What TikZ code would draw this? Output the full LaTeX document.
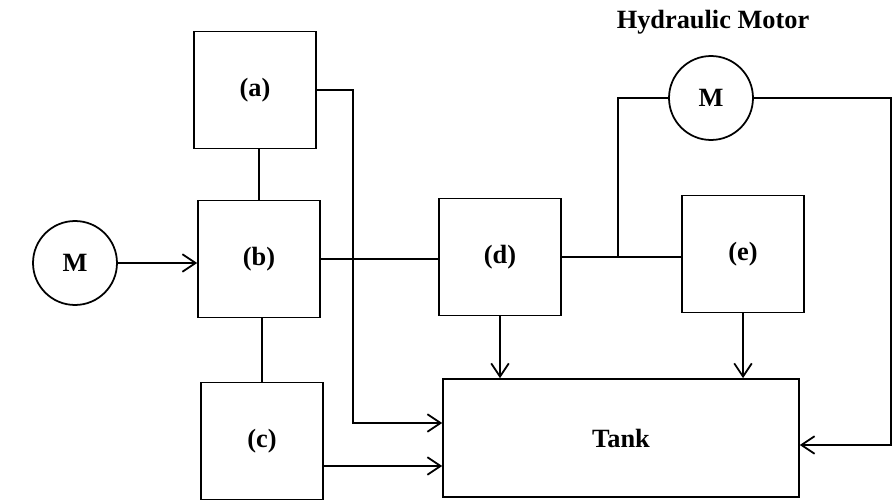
\documentclass[tikz,border=0pt]{standalone}
\usepackage{fontspec}
\setmainfont{Liberation Serif}
\usetikzlibrary{arrows.meta}
\tikzset{
  blk/.style={draw,line width=1pt,minimum width=2.44cm,minimum height=2.34cm,inner sep=0pt,font=\fontsize{15}{17}\selectfont\bfseries},
  mot/.style={draw,circle,line width=1pt,minimum size=1.68cm,inner sep=0pt,font=\fontsize{15}{17}\selectfont\bfseries},
  pipe/.style={line width=1pt},
  flow/.style={pipe,-{Straight Barb[length=7.5pt,width=10pt,line width=1pt]}}
}
\begin{document}
\begin{tikzpicture}[x=0.02cm,y=-0.02cm]
\useasboundingbox (0,0) rectangle (893,503);
% pumps and valves
\node[blk] (a) at (255,90) {(a)};
\node[blk] (b) at (259,259) {(b)};
\node[blk] (c) at (262,441) {(c)};
\node[blk] (d) at (500,257) {(d)};
\node[blk] (e) at (743,254) {(e)};
% tank
\node[blk,minimum width=7.12cm,minimum height=2.36cm] (tank) at (621,438) {Tank};
% electric motor
\node[mot] (m1) at (75,263) {M};
% hydraulic motor
\node[mot] (m2) at (711,98) {M};
\node[font=\fontsize{15}{17}\selectfont\bfseries] (hm) at (713,22) {Hydraulic Motor};
% junctions
\coordinate (aturn) at (353,423);
\coordinate (jn) at (618,260);
\coordinate (ret) at (891,445);
% connections
\draw[pipe] (b.north) -- (b.north |- a.south);
\draw[pipe] (c.north |- b.south) -- (c.north);
\draw[flow] (m1.east) -- (m1.east -| b.west);
\draw[flow] (a.east) -| (aturn) -- (aturn -| tank.west);
\draw[pipe] (b.east) -- (b.east -| d.west);
\draw[pipe] (d.east) -- (d.east -| e.west);
\draw[pipe] (jn |- d.east) |- (m2.west);
\draw[flow] (m2.east) -| (ret) -- (ret -| tank.east);
\draw[flow] ([yshift=-0.5cm]c.east) -- ([yshift=-0.5cm]c.east -| tank.west);
\draw[flow] (d.south) -- (d.south |- tank.north);
\draw[flow] (e.south) -- (e.south |- tank.north);
\end{tikzpicture}
\end{document}
